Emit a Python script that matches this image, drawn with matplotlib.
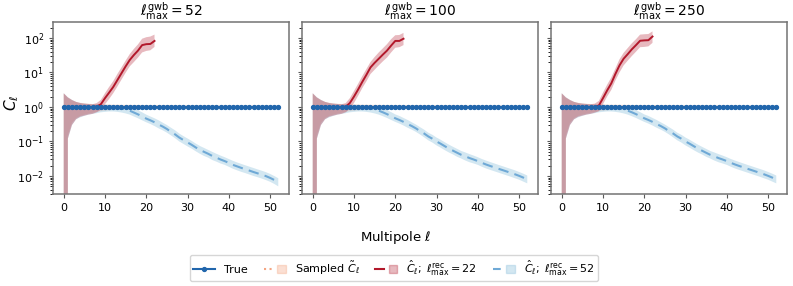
import numpy as np
import matplotlib
matplotlib.use("Agg")
import matplotlib.pyplot as plt
from matplotlib.lines import Line2D
from matplotlib.patches import Patch
from matplotlib.legend_handler import HandlerTuple

# ---------------- data ----------------
titles = ["52", "100", "250"]

ell_all = np.arange(0, 53)
ell_rec = np.arange(0, 23)

true_cl = [1.0] * 53

sampled_mean = [1.0, 1.02, 0.98, 1.01, 1.0, 0.99, 1.01, 1.0, 1.0, 1.01, 1.0, 0.99, 1.0, 1.01, 1.0,
                1.0, 0.99, 1.0, 1.01, 1.0, 1.0, 1.0, 0.99, 1.0, 1.0, 1.01, 1.0, 1.0, 1.0, 0.99,
                1.0, 1.0, 1.0, 1.01, 1.0, 1.0, 1.0, 1.0, 0.99, 1.0, 1.0, 1.0, 1.0, 1.0, 1.0,
                1.0, 1.0, 1.0, 1.0, 1.0, 1.0, 1.0, 1.0]
sampled_lo = [0.0, 0.15, 0.35, 0.48, 0.55, 0.6, 0.64, 0.68, 0.72, 0.75, 0.78, 0.8, 0.82, 0.83, 0.84,
              0.85, 0.86, 0.86, 0.87, 0.87, 0.88, 0.88, 0.88, 0.89, 0.89, 0.89, 0.89, 0.9, 0.9, 0.9,
              0.9, 0.9, 0.9, 0.9, 0.91, 0.91, 0.91, 0.91, 0.91, 0.91, 0.91, 0.92, 0.92, 0.92, 0.92,
              0.92, 0.92, 0.92, 0.92, 0.92, 0.93, 0.93, 0.93]
sampled_hi = [2.4, 1.85, 1.55, 1.4, 1.32, 1.27, 1.24, 1.22, 1.2, 1.19, 1.18, 1.17, 1.16, 1.16, 1.15,
              1.15, 1.15, 1.14, 1.14, 1.14, 1.13, 1.13, 1.13, 1.13, 1.12, 1.12, 1.12, 1.12, 1.12, 1.11,
              1.11, 1.11, 1.11, 1.11, 1.1, 1.1, 1.1, 1.1, 1.1, 1.1, 1.1, 1.09, 1.09, 1.09, 1.09,
              1.09, 1.09, 1.09, 1.09, 1.08, 1.08, 1.08, 1.08]

# reconstruction with l_rec_max = 22 (one list per panel)
red_mean = [
    [1.0, 0.93, 0.97, 1.0, 1.0, 1.0, 1.0, 1.0, 1.03, 1.2, 1.8, 2.6, 3.8, 6.0, 9.5, 15, 23, 32, 43, 62, 66, 67, 82],
    [1.0, 0.93, 0.97, 1.0, 1.0, 1.0, 1.0, 1.0, 1.02, 1.3, 2.0, 3.2, 5.3, 8.5, 14, 19, 25, 33, 43, 60, 82, 82, 95],
    [1.0, 0.93, 0.97, 1.0, 1.0, 1.0, 1.0, 1.0, 1.0, 1.1, 1.8, 3.0, 4.8, 9.0, 16, 25, 34, 47, 62, 83, 85, 86, 110],
]
red_lo = [
    [0.0, 0.12, 0.3, 0.44, 0.52, 0.56, 0.6, 0.63, 0.7, 0.82, 1.2, 1.7, 2.5, 3.9, 6.2, 9.8, 15, 20, 27, 38, 42, 44, 55],
    [0.0, 0.12, 0.3, 0.44, 0.52, 0.56, 0.6, 0.63, 0.7, 0.88, 1.3, 2.1, 3.5, 5.5, 9.0, 12, 16, 21, 27, 38, 52, 54, 62],
    [0.0, 0.12, 0.3, 0.44, 0.52, 0.56, 0.6, 0.63, 0.68, 0.75, 1.2, 2.0, 3.1, 5.8, 10, 16, 22, 30, 40, 54, 55, 57, 72],
]
red_hi = [
    [2.5, 1.9, 1.6, 1.4, 1.3, 1.25, 1.22, 1.2, 1.3, 1.6, 2.5, 3.8, 5.6, 9.0, 14, 22, 34, 48, 65, 95, 105, 110, 125],
    [2.5, 1.9, 1.6, 1.4, 1.3, 1.25, 1.22, 1.2, 1.3, 1.8, 2.9, 4.7, 7.8, 12.5, 20, 28, 38, 50, 66, 92, 120, 122, 140],
    [2.5, 1.9, 1.6, 1.4, 1.3, 1.25, 1.22, 1.2, 1.25, 1.5, 2.6, 4.4, 7.1, 13, 24, 37, 51, 70, 92, 125, 128, 130, 155],
]

# reconstruction with l_rec_max = 52
blue_mean_a = [1.0, 0.98, 0.97, 0.98, 0.99, 1.0, 1.0, 0.99, 1.0, 0.99, 0.98, 0.97, 0.96, 0.94, 0.9,
               0.85, 0.78, 0.69, 0.61, 0.53, 0.46, 0.41, 0.36, 0.31, 0.27, 0.23, 0.19, 0.16, 0.13, 0.11,
               0.094, 0.08, 0.067, 0.057, 0.05, 0.044, 0.038, 0.034, 0.03, 0.027, 0.024, 0.021, 0.019,
               0.0172, 0.0157, 0.0143, 0.013, 0.0119, 0.0109, 0.0099, 0.0088, 0.0077, 0.0066]
blue_lo_a = [0.0, 0.12, 0.3, 0.44, 0.5, 0.55, 0.6, 0.63, 0.66, 0.7, 0.72, 0.74, 0.74, 0.72, 0.69,
             0.65, 0.6, 0.53, 0.47, 0.41, 0.36, 0.32, 0.28, 0.24, 0.21, 0.18, 0.15, 0.124, 0.1, 0.085,
             0.072, 0.062, 0.052, 0.044, 0.038, 0.034, 0.029, 0.026, 0.023, 0.021, 0.0185, 0.0162, 0.0146,
             0.0132, 0.0121, 0.011, 0.01, 0.0092, 0.0084, 0.0076, 0.0068, 0.0059, 0.005]
blue_hi_a = [2.5, 1.9, 1.6, 1.4, 1.3, 1.25, 1.22, 1.2, 1.18, 1.17, 1.16, 1.15, 1.13, 1.1, 1.06,
             1.02, 0.97, 0.9, 0.8, 0.7, 0.6, 0.53, 0.47, 0.41, 0.35, 0.3, 0.25, 0.21, 0.17, 0.143,
             0.122, 0.104, 0.087, 0.074, 0.065, 0.057, 0.05, 0.044, 0.039, 0.035, 0.031, 0.0275, 0.0247,
             0.0224, 0.0204, 0.0186, 0.017, 0.0155, 0.0142, 0.0129, 0.0115, 0.01, 0.0086]

blue_mean_b = [1.0, 0.98, 0.97, 0.98, 0.99, 1.0, 1.0, 0.99, 1.0, 0.99, 0.98, 0.97, 0.96, 0.94, 0.9,
               0.85, 0.78, 0.7, 0.62, 0.54, 0.47, 0.42, 0.37, 0.32, 0.28, 0.24, 0.2, 0.17, 0.14, 0.12,
               0.1, 0.086, 0.073, 0.062, 0.054, 0.047, 0.041, 0.037, 0.033, 0.03, 0.027, 0.024, 0.0215,
               0.0195, 0.0178, 0.0162, 0.0148, 0.0135, 0.0123, 0.0112, 0.0101, 0.009, 0.0079]
blue_lo_b = [0.0, 0.12, 0.3, 0.44, 0.5, 0.55, 0.6, 0.63, 0.66, 0.7, 0.72, 0.74, 0.74, 0.72, 0.69,
             0.65, 0.6, 0.54, 0.48, 0.42, 0.37, 0.33, 0.29, 0.25, 0.22, 0.19, 0.16, 0.132, 0.108, 0.093,
             0.077, 0.066, 0.056, 0.048, 0.042, 0.036, 0.032, 0.028, 0.025, 0.023, 0.021, 0.0185, 0.0165,
             0.015, 0.0137, 0.0125, 0.0114, 0.0104, 0.0095, 0.0086, 0.0078, 0.0069, 0.0061]
blue_hi_b = [2.5, 1.9, 1.6, 1.4, 1.3, 1.25, 1.22, 1.2, 1.18, 1.17, 1.16, 1.15, 1.13, 1.1, 1.06,
             1.02, 0.97, 0.91, 0.81, 0.71, 0.61, 0.55, 0.48, 0.42, 0.36, 0.31, 0.26, 0.22, 0.18, 0.156,
             0.13, 0.112, 0.095, 0.081, 0.07, 0.061, 0.053, 0.048, 0.043, 0.039, 0.035, 0.031, 0.028,
             0.0254, 0.0231, 0.021, 0.0192, 0.0175, 0.016, 0.0146, 0.0131, 0.0117, 0.0103]

blue_mean = [blue_mean_a, blue_mean_b, blue_mean_b]
blue_lo = [blue_lo_a, blue_lo_b, blue_lo_b]
blue_hi = [blue_hi_a, blue_hi_b, blue_hi_b]

# ---------------- style ----------------
c_true = "#2166ac"
c_samp = "#f4a582"
c_red = "#b2182b"
c_blue = "#6fa9d6"
c_blue_fill = "#9ecae1"

fig = plt.figure(figsize=(7.93, 2.86), dpi=100)
W, H = 793.0, 286.0
lefts = [53, 302, 551]
axw, top, bot = 236, 22, 194
axes = []
for i in range(3):
    ax = fig.add_axes([lefts[i] / W, 1 - bot / H, axw / W, (bot - top) / H],
                      sharey=axes[0] if axes else None)
    axes.append(ax)

for i, ax in enumerate(axes):
    ax.set_yscale("log", nonpositive="clip")
    ax.fill_between(ell_all, sampled_lo, sampled_hi, color=c_samp, alpha=0.35, lw=0)
    ax.fill_between(ell_all, blue_lo[i], blue_hi[i], color=c_blue_fill, alpha=0.45, lw=0)
    ax.fill_between(ell_rec, red_lo[i], red_hi[i], color=c_red, alpha=0.3, lw=0)
    ax.plot(ell_all, sampled_mean, ls=":", color=c_samp, lw=1.5)
    ax.plot(ell_all, blue_mean[i], ls=(0, (5, 3)), color=c_blue, lw=1.5)
    ax.plot(ell_rec, red_mean[i], ls="-", color=c_red, lw=1.4)
    ax.plot(ell_all, true_cl, "-o", color=c_true, lw=1.5, ms=2.8)
    ax.set_title(r"$\ell_{\rm max}^{\rm gwb} = %s$" % titles[i], fontsize=10, pad=3)
    ax.set_ylim(3e-3, 2.9e2)
    ax.set_xticks([0, 10, 20, 30, 40, 50])
    ax.tick_params(labelsize=8, length=3, color="0.35")
    for s in ax.spines.values():
        s.set_color("0.45")
        s.set_linewidth(1.1)
    if i > 0:
        ax.tick_params(labelleft=False)

fig.text(12 / W, 1 - 103 / H, r"$C_\ell$", ha="center", va="center", rotation=90, fontsize=11)
fig.text(396 / W, 1 - 237 / H, r"Multipole $\ell$", ha="center", va="center", fontsize=9.5)

h_true = Line2D([], [], color=c_true, marker="o", ms=2.8, lw=1.5)
h_samp = (Line2D([], [], color=c_samp, ls=":", lw=1.5), Patch(color=c_samp, alpha=0.35))
h_red = (Line2D([], [], color=c_red, lw=1.5), Patch(color=c_red, alpha=0.3))
h_blue = (Line2D([], [], color=c_blue, ls="--", lw=1.5), Patch(color=c_blue_fill, alpha=0.45))
labels = ["True", r"Sampled $\tilde{C}_\ell$",
          r"$\hat{C}_\ell;\;\ell_{\rm max}^{\rm rec} = 22$",
          r"$\hat{C}_\ell;\;\ell_{\rm max}^{\rm rec} = 52$"]
fig.legend([h_true, h_samp, h_red, h_blue], labels, ncol=4, loc="center",
           bbox_to_anchor=(394 / W, 1 - 268 / H), fontsize=8, frameon=True,
           handler_map={tuple: HandlerTuple(ndivide=None, pad=0.4)},
           columnspacing=1.4, handlelength=2.0, borderpad=0.3, handletextpad=0.8)

fig.savefig("out.png", dpi=100)
